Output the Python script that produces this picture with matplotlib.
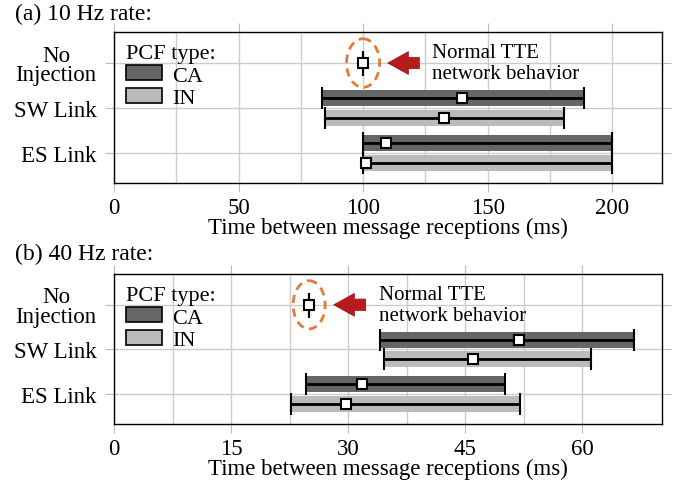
import matplotlib.pyplot as plt
from matplotlib.patches import Patch, Ellipse

plt.rcParams['font.family'] = ['Liberation Serif', 'DejaVu Serif']
plt.rcParams['font.size'] = 16.5

categories = ['No\nInjection', 'SW Link', 'ES Link']
pcf_types = ['CA', 'IN']
colors = {'CA': '#666666', 'IN': '#bbbbbb'}

# 10 Hz rate: (min, median, max) per category, ms
hz10_ca_min = [100, 83.5, 100]
hz10_ca_med = [100, 139.8, 109]
hz10_ca_max = [100, 188.8, 200]
hz10_in_min = [100, 84.7, 100]
hz10_in_med = [100, 132.5, 101]
hz10_in_max = [100, 180.7, 200]

# 40 Hz rate
hz40_ca_min = [25, 34.1, 24.6]
hz40_ca_med = [25, 51.9, 31.8]
hz40_ca_max = [25, 66.6, 50.1]
hz40_in_min = [25, 34.6, 22.7]
hz40_in_med = [25, 46.0, 29.7]
hz40_in_max = [25, 61.1, 52.0]

hz10_ticks = [0, 50, 100, 150, 200]
hz40_ticks = [0, 15, 30, 45, 60]


def draw_panel(ax, data, xmax, ticks, minor, title, title_y, ell_w, arrow_x, text_x):
    offsets = {'CA': -0.22, 'IN': 0.22}
    for name in pcf_types:
        lo, med, hi = data[name]
        for i in range(1, len(categories)):
            y = i + offsets[name]
            ax.barh(y, hi[i] - lo[i], left=lo[i], height=0.36,
                    color=colors[name], zorder=2)
            ax.errorbar(med[i], y, xerr=[[med[i] - lo[i]], [hi[i] - med[i]]],
                        fmt='s', color='black', mfc='white', mec='black',
                        ms=7, mew=1.5, lw=2, capsize=8, capthick=2, zorder=3)
    # no injection: single point
    lo, med, hi = data['CA']
    ax.errorbar(med[0], 0, xerr=[[0], [0]], fmt='s', color='black',
                mfc='white', mec='black', ms=7, mew=1.5, lw=2,
                capsize=9, capthick=2, zorder=3)
    ax.add_patch(Ellipse((med[0], 0), ell_w, 1.08, fill=False,
                         edgecolor='#e07b39', ls=(0, (3, 2)), lw=2, zorder=4))
    ax.annotate('', xy=(arrow_x[1], 0), xytext=(arrow_x[0], 0),
                arrowprops=dict(arrowstyle='simple,head_length=0.9,head_width=1.0,tail_width=0.5',
                                fc='#b71c1c', ec='#9a1010', lw=0.5))
    ax.text(text_x, 0, 'Normal TTE\nnetwork behavior', ha='left', va='center',
            fontsize=15, linespacing=1.15)

    ax.set_xlim(0, xmax)
    ax.set_ylim(2.67, -0.69)
    ax.set_xticks(ticks)
    ax.set_xticks(minor, minor=True)
    ax.set_yticks(range(len(categories)))
    ax.set_yticklabels(categories, linespacing=0.9, ma='center')
    ax.grid(True, which='both', color='#cccccc', lw=1, zorder=0)
    ax.set_axisbelow(True)
    ax.tick_params(which='both', direction='out', length=6.5, color='#bbbbbb',
                   top=True, right=True, labeltop=False, labelright=False)
    ax.tick_params(axis='y', pad=6)
    ax.tick_params(which='minor', length=0)
    for s in ax.spines.values():
        s.set_linewidth(1)
    ax.set_xlabel('Time between message receptions (ms)', labelpad=-1)

    handles = [Patch(facecolor=colors[n], edgecolor='black', lw=1.2, label=n)
               for n in pcf_types]
    leg = ax.legend(handles=handles, title='PCF type:', loc='upper left',
                    frameon=False, alignment='left', handlelength=1.6,
                    handleheight=0.65, borderaxespad=0.45, labelspacing=0.1,
                    handletextpad=0.45, borderpad=0.1, fontsize=16)
    leg.get_title().set_fontsize(16)
    fig.text(15 / 686, title_y, title, ha='left', va='center', fontsize=17)


fig = plt.figure(figsize=(6.86, 4.89), dpi=100)
ax1 = fig.add_axes([114 / 686, 1 - 184 / 489, 548 / 686, 151 / 489])
ax2 = fig.add_axes([114 / 686, 1 - 425 / 489, 548 / 686, 150 / 489])

d10 = {'CA': (hz10_ca_min, hz10_ca_med, hz10_ca_max),
       'IN': (hz10_in_min, hz10_in_med, hz10_in_max)}
d40 = {'CA': (hz40_ca_min, hz40_ca_med, hz40_ca_max),
       'IN': (hz40_in_min, hz40_in_med, hz40_in_max)}

draw_panel(ax1, d10, 220, hz10_ticks, [25, 75, 125, 175], '(a) 10 Hz rate:',
           1 - 14 / 489, 13.3, (123.7, 108.8), 127.7)
draw_panel(ax2, d40, 70.2, hz40_ticks, [7.5, 22.5, 37.5, 52.5], '(b) 40 Hz rate:',
           1 - 254 / 489, 4.1, (32.6, 27.8), 33.9)

fig.savefig('out.png', dpi=100)
